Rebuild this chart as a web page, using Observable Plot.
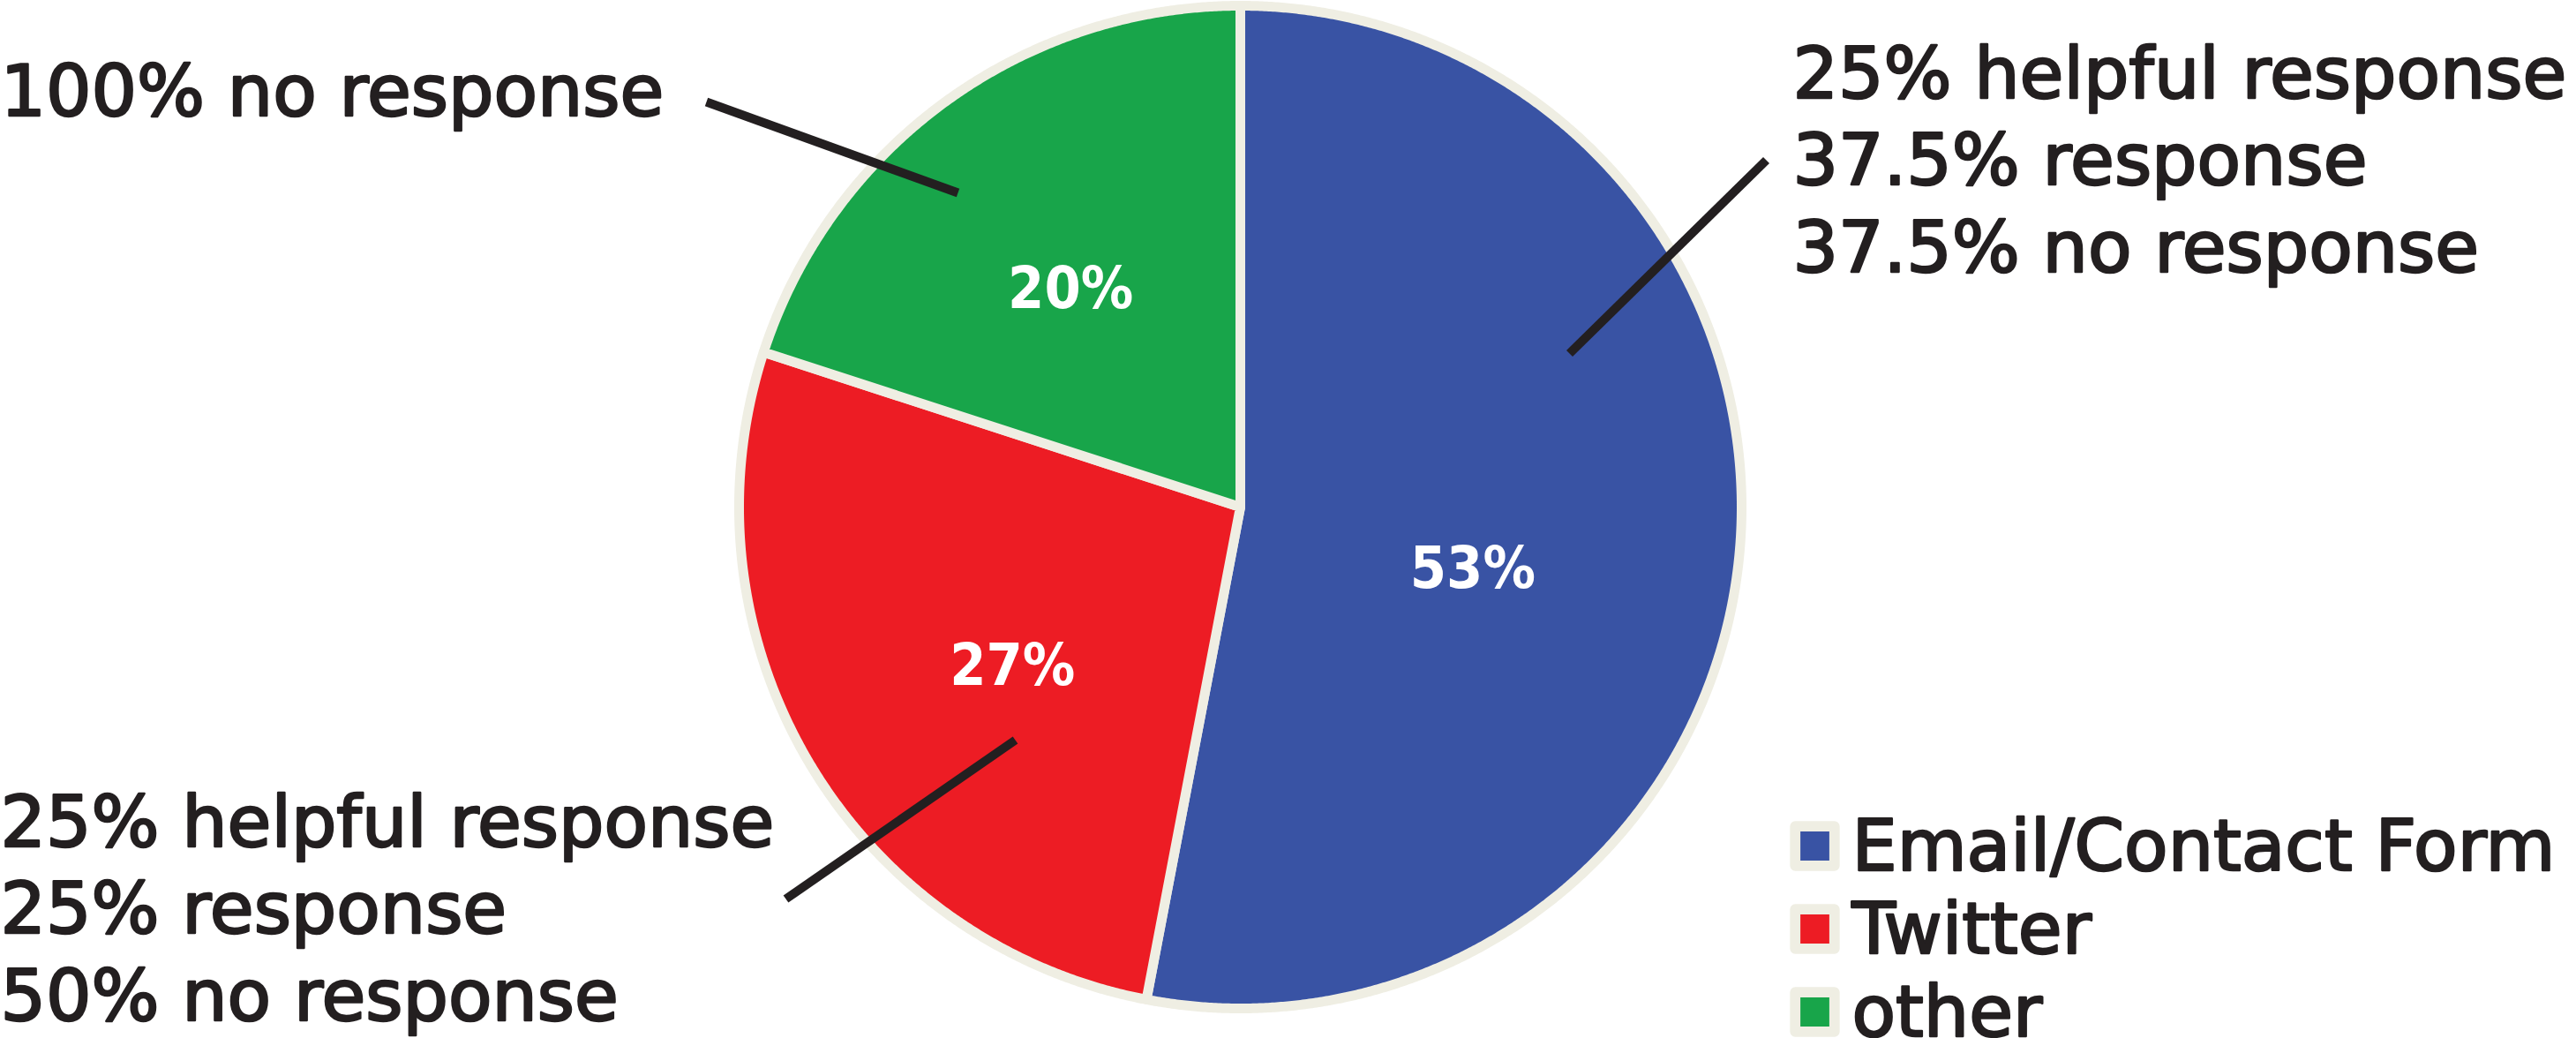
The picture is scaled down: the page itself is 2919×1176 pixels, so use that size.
<!DOCTYPE html>
<html><head><meta charset="utf-8">
<script src="https://cdn.jsdelivr.net/npm/d3@7"></script>
<script src="https://cdn.jsdelivr.net/npm/@observablehq/plot@0.6"></script>
<style>html,body{margin:0;padding:0;background:#fff;overflow:hidden} svg{display:block}</style>
</head><body><div id="chart"></div>
<script>
// ---- data ----
const channels = ["Email/Contact Form", "Twitter", "other"];
const shares = [53, 27, 20];
const colors = ["#3953a4", "#ed1c24", "#18a54a"];
const helpfulResponse = [25, 25, 0];
const plainResponse = [37.5, 25, 0];
const noResponse = [37.5, 50, 100];

// ---- layout (pixels) ----
const W = 2919, H = 1176;
const cx = 1405, cy = 574, R = 568;
const ux = px => (px - cx) / R;   // pixel -> pie units
const uy = py => (cy - py) / R;
const labelPolar = [[0.48, 105], [0.555, 235], [0.55, 322]];   // radius units, degrees clockwise from top
const callout = [
  {from: [2001, 181], to: [1778, 400], text: [2031, 307]},
  {from: [890, 1018], to: [1150, 838], text: [0, 1155]},
  {from: [800, 115], to: [1085, 218], text: [0, 130]}
];
const legendRow0 = 958, legendStep = 94, legendBoxX = 2056, legendTextX = 2098, legendBaseline = 27;
const ink = "#231f20", rim = "#efeee3";

// ---- derived ----
const total = d3.sum(shares);
let acc = 0;
const slices = channels.map((c, i) => {
  const a0 = acc / total * 2 * Math.PI;
  acc += shares[i];
  const a1 = acc / total * 2 * Math.PI;
  return {channel: c, a0, a1, share: shares[i], i};
});
const slicePts = [];
for (const s of slices) {
  slicePts.push({channel: s.channel, x: 0, y: 0});
  const n = Math.max(8, Math.ceil((s.a1 - s.a0) / (Math.PI / 720)));
  for (let k = 0; k <= n; ++k) {
    const a = s.a0 + (s.a1 - s.a0) * k / n;
    slicePts.push({channel: s.channel, x: Math.sin(a), y: Math.cos(a)});
  }
}
const sliceLabels = slices.map(s => {
  const [r, deg] = labelPolar[s.i];
  const a = deg * Math.PI / 180;
  return {x: r * Math.sin(a), y: r * Math.cos(a), text: `${s.share}%`};
});
const fmt = v => `${v}%`;
const calloutData = channels.map((c, i) => {
  const lines = [];
  if (helpfulResponse[i]) lines.push(`${fmt(helpfulResponse[i])} helpful response`);
  if (plainResponse[i]) lines.push(`${fmt(plainResponse[i])} response`);
  if (noResponse[i]) lines.push(`${fmt(noResponse[i])} no response`);
  const L = callout[i];
  return {
    x1: ux(L.from[0]), y1: uy(L.from[1]), x2: ux(L.to[0]), y2: uy(L.to[1]),
    tx: ux(L.text[0]), ty: uy(L.text[1]), text: lines.join("\n")
  };
});
const legendData = channels.map((c, i) => ({
  channel: c,
  bx: ux(legendBoxX), by: uy(legendRow0 + i * legendStep),
  tx: ux(legendTextX), ty: uy(legendRow0 + legendBaseline + i * legendStep)
}));

const chart = Plot.plot({
  width: W, height: H,
  margin: 0,
  x: {domain: [ux(0), ux(W)], axis: null},
  y: {domain: [uy(H), uy(0)], axis: null},
  color: {domain: channels, range: colors},
  style: {fontFamily: "DejaVu Sans", background: "white"},
  marks: [
    Plot.line(slicePts, {x: "x", y: "y", z: "channel", fill: "channel", stroke: rim, strokeWidth: 11, strokeLinejoin: "round", curve: "linear-closed"}),
    Plot.text(sliceLabels, {x: "x", y: "y", text: "text", fill: "white", fontSize: 66, fontWeight: "bold", fontFamily: "DejaVu Sans Condensed", textAnchor: "middle"}),
    Plot.link(calloutData, {x1: "x1", y1: "y1", x2: "x2", y2: "y2", stroke: ink, strokeWidth: 10}),
    Plot.text(calloutData, {x: "tx", y: "ty", text: "text", fill: ink, stroke: ink, strokeWidth: 2.5, fontSize: 81, textAnchor: "start", lineAnchor: "bottom", lineHeight: 1.213}),
    Plot.dot(legendData, {x: "bx", y: "by", fill: rim, symbol: "square", r: 25, stroke: rim, strokeWidth: 12, strokeLinejoin: "round"}),
    Plot.dot(legendData, {x: "bx", y: "by", fill: "channel", symbol: "square", r: 18.5}),
    Plot.text(legendData, {x: "tx", y: "ty", text: "channel", fill: ink, stroke: ink, strokeWidth: 2.5, fontSize: 81, textAnchor: "start", lineAnchor: "bottom"})
  ]
});
document.getElementById("chart").appendChild(chart);
</script>
</body></html>
